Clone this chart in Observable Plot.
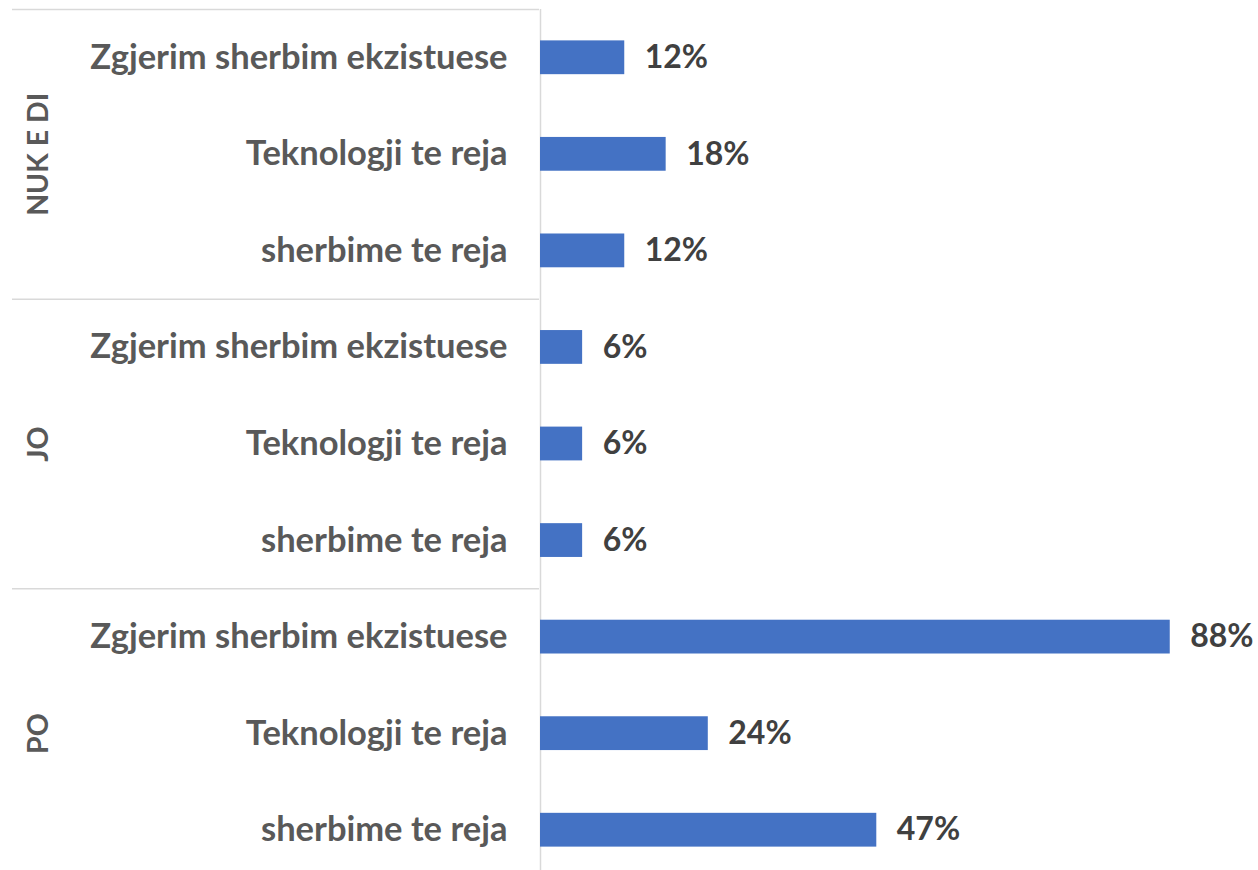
<!DOCTYPE html>
<html>
<head>
<meta charset="utf-8">
<script src="https://cdn.jsdelivr.net/npm/d3@7"></script>
<script src="https://cdn.jsdelivr.net/npm/@observablehq/plot@0.6"></script>
<style>
  html, body { margin: 0; padding: 0; background: #fff; }
  #chart svg { display: block; }
</style>
</head>
<body>
<div id="chart"></div>
<script>
// Data
const groups = ["NUK E DI", "JO", "PO"];
const subcategories = ["Zgjerim sherbim ekzistuese", "Teknologji te reja", "sherbime te reja"];
const nukEDiValues = [0.118, 0.176, 0.118];
const joValues = [0.059, 0.059, 0.059];
const poValues = [0.882, 0.235, 0.471];

const seriesByGroup = [nukEDiValues, joValues, poValues];
const rows = [];
groups.forEach((g, gi) => {
  subcategories.forEach((s, si) => {
    rows.push({group: g, sub: s, value: seriesByGroup[gi][si], row: gi * subcategories.length + si});
  });
});
const groupRows = groups.map((g, gi) => ({
  group: g,
  start: gi * subcategories.length - 0.5,
  center: gi * subcategories.length + (subcategories.length - 1) / 2
}));

const FONT = "Lato, 'Open Sans', sans-serif";
const fmt = d3.format(".0%");

const chart = Plot.plot({
  width: 1258,
  height: 870,
  marginTop: 9,
  marginBottom: 0,
  marginLeft: 12,
  marginRight: 4,
  style: {fontFamily: FONT, background: "#fff"},
  x: {domain: [0, 1], range: [540, 1254], axis: null},
  y: {domain: [-0.5, 8.5], range: [9, 878], axis: null},
  marks: [
    Plot.ruleY(groupRows, {y: "start", stroke: "#d9d9d9", strokeWidth: 1.5, insetRight: 715}),
    Plot.ruleX([0], {stroke: "#d9d9d9", strokeWidth: 1.5}),
    Plot.rectX(rows, {
      x1: 0, x2: "value",
      y1: d => d.row - 0.175, y2: d => d.row + 0.175,
      fill: "#4472C4"
    }),
    Plot.text(rows, {
      x: 0, y: "row", text: "sub",
      textAnchor: "end", dx: -33,
      fill: "#595959", fontWeight: "bold", fontSize: 34.5
    }),
    Plot.text(rows, {
      x: "value", y: "row", text: d => fmt(d.value),
      textAnchor: "start", dx: 20,
      fill: "#404040", fontWeight: "bold", fontSize: 32
    }),
    Plot.text(groupRows, {
      frameAnchor: "left", y: "center", text: "group",
      rotate: -90, dx: 26, textAnchor: "middle",
      fill: "#595959", fontWeight: "bold", fontSize: 28.5
    })
  ]
});
document.getElementById("chart").appendChild(chart);
</script>
</body>
</html>
